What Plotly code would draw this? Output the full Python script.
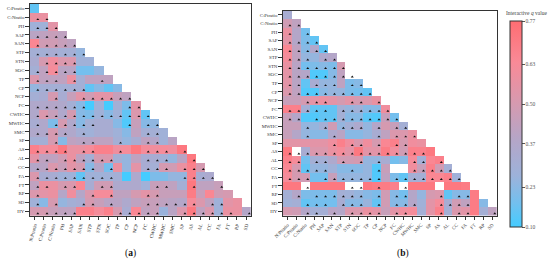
import plotly.graph_objects as go

x_labels = ["N:Ptratio","C:Ptratio","C:Nratio","PH","SAP","SAN","STP","STN","SOC","TP","CP","NCP","FC","CWHC","MWHC","SMC","SP","AS","AL","CC","FA","FT","RP","SD"]
y_labels = ["C:Ptratio","C:Nratio","PH","SAP","SAN","STP","STN","SOC","TP","CP","NCP","FC","CWHC","MWHC","SMC","SP","AS","AL","CC","FA","FT","RP","SD","HY"]

q_a = [
[.15],
[.58,.58],
[.28,.28,.55],
[.40,.42,.45,.42],
[.65,.48,.48,.45,.42],
[.30,.30,.32,.30,.30,.25],
[.33,.50,.60,.52,.52,.28,.28],
[.30,.42,.62,.40,.40,.18,.18,.25],
[.52,.42,.42,.42,.58,.30,.42,.42,.42],
[.25,.30,.30,.30,.30,.30,.15,.22,.15,.22],
[.30,.32,.50,.32,.45,.55,.48,.55,.55,.45,.42],
[.36,.36,.38,.36,.30,.22,.10,.28,.10,.30,.20,.55],
[.36,.52,.45,.36,.50,.22,.20,.28,.22,.28,.15,.52,.15],
[.32,.36,.20,.50,.36,.22,.30,.32,.32,.22,.12,.45,.22,.24],
[.36,.36,.50,.38,.36,.30,.28,.32,.32,.28,.22,.42,.30,.30,.28],
[.30,.30,.50,.22,.42,.40,.40,.42,.42,.30,.25,.32,.42,.38,.28,.40],
[.68,.62,.62,.72,.58,.58,.62,.68,.68,.60,.62,.72,.62,.60,.62,.60,.72],
[.55,.42,.42,.48,.58,.42,.30,.50,.52,.30,.25,.42,.32,.32,.30,.25,.40,.72],
[.38,.40,.52,.45,.55,.50,.22,.38,.18,.58,.25,.55,.32,.30,.50,.48,.58,.68,.50],
[.52,.32,.32,.28,.28,.15,.28,.28,.28,.30,.10,.35,.10,.20,.20,.25,.25,.68,.32,.34],
[.42,.58,.58,.50,.52,.65,.32,.48,.48,.35,.35,.35,.28,.45,.45,.42,.30,.72,.42,.42,.45],
[.52,.55,.58,.38,.60,.38,.52,.62,.62,.42,.42,.50,.55,.50,.45,.45,.45,.70,.45,.65,.48,.50],
[.28,.22,.50,.25,.30,.32,.50,.45,.40,.40,.35,.42,.45,.45,.42,.40,.38,.62,.52,.42,.28,.55,.58],
[.50,.50,.45,.42,.42,.68,.68,.62,.68,.50,.32,.65,.42,.45,.26,.40,.52,.72,.42,.52,.28,.58,.58,.38],
]
marks_a = [
[],[0,1],[0,1,2],[0,1,2,3],[0,1,2,3,4],[0,1,2,3,4,5],[1,2,3,4],[0,1,2,3,4],[0,1,2,4,7],[0,1,2,3,4,5],
[2,5,6,7,8,9,10],[0,1,2,3,4,5,10,11],[0,1,2,3,4,5,6,7,8,9,10,11,12],[0,2,3,4,5,6,10,12,13],[0,1,2,3,5,12,13],
[2,5,6,9,12,13],[0,1,2,3,5,6,9,12,13,14,16],[0,1,3,4,5,6,7,8,12,13,14,17],[0,1,2,3,4,5,6,8,12,13,14,16,17,18],
[0,1,2,3,4,5,6,7,8,16,17,18,19],[0,1,3,4,7,8,13,14,17,20],[0,6,8,12,13],[0,2,5,6,8,12,13,14,15,16,17,19,20],
[0,1,2,3,4,9,10,11,12,13,16,17,18,19,20,21,23],
]
q_b = [
[.32],
[.48,.42],
[.58,.38,.18],
[.55,.38,.20,.15],
[.65,.42,.22,.36,.15],
[.62,.42,.25,.25,.35,.38],
[.58,.40,.18,.20,.22,.20,.50],
[.55,.40,.38,.12,.12,.22,.42,None],
[.55,.40,.15,.32,.25,.25,.42,.20,.22],
[.52,.42,.12,.12,.22,.25,.25,.20,.18,.15],
[.45,.45,.50,.55,.58,.55,.50,.55,.50,.52,.58],
[.68,.68,.30,.15,.15,.15,.30,.25,.28,.22,.22,.60],
[.45,.38,.12,.12,.15,.15,.30,.22,.22,.14,.12,.45,.18],
[.45,.45,.25,.25,.30,.48,.25,.30,.35,.25,.38,.50,.45,.30],
[.45,.38,.25,.22,.22,.35,.40,.22,.22,.25,.32,.42,.52,.52,.58],
[.55,.55,.55,.55,.55,.60,.68,.60,.52,.60,.50,.65,.68,.50,.60,.58],
[.72,None,.32,.52,.52,.58,.62,.55,.72,.55,.55,.70,.60,.48,.68,.68,.72],
[.68,.62,.18,.30,.30,.35,.48,.48,.50,.25,.25,.32,.18,.22,.62,.30,.65,.68],
[.65,.50,.15,.25,.25,.28,.22,.22,.22,.25,.12,.45,None,None,.60,.45,.68,.48,.30],
[.62,.50,.48,.18,.18,.45,.25,.25,.25,.25,.12,.42,.20,.15,.30,.30,.65,.65,.68,.28],
[.72,.72,None,.72,.72,.72,.72,None,None,.72,.70,.70,.68,None,.72,.72,.72,None,.72,.72,.70],
[.30,.38,.20,.20,.20,.20,.30,.28,.25,.22,.20,.48,.22,.18,.38,.25,.50,.52,.15,.22,.22,.70],
[.28,.30,.15,.18,.18,.18,.32,.22,.22,.26,.15,.48,.22,.22,.38,.28,.55,.62,.32,.48,.42,.70,.22],
[.50,.48,.38,.30,.30,.40,.38,.52,.52,.58,.55,.45,.55,.60,.62,.30,.55,.68,.30,.52,.55,.70,.30,.42],
]
marks_b = [
[],[0,1],[0,2],[0,1,2,3],[0,1,2,3,4],[0,1,2,4,5],[0,1,2,3,4,5,6],[0,1,2,3,4,5,6,7],[0,1,3,4,5,7,8],[0,1,2,3,4,5,6,7,8,9],
[2,3,4,7,8,10],[0,1,2,3,4,6,7,8,9,10,11],[0,1,3,4,5,6,7,8,9,10,11,12],[2,4,6,7,8,10,12,13],[2,5,10,12,13,14],
[5,7,8,10,12,13],[0,1,2,3,4,5,6,7,8,9,10,11,12,13,14,15],[0,1,3,4,6,8,10,14,15,17],[0,1,2,3,4,7,10,14,15,16,17,18],
[0,1,2,4,5,6,7,8,9,10,12,13,14,15,16,17,18,19],[2,7,8,10,13],[1,3,4,5,6,7,8,10,12,13,17,19,20],
[2,3,4,6,7,8,10,12,13,14,17,18,19,20],[2,3,5,7,8,9,10,12,13,17,19,20,23],
]
cbar_ticks = [0.10,0.23,0.37,0.50,0.63,0.77]
cbar_text = ["0.10","0.23","0.37","0.50","0.63","0.77"]

W, H = 550, 262
FONT = "Liberation Serif"
scale = [[0,"#45ccff"],[.12,"#74bfee"],[.25,"#9db2da"],[.42,"#b4a6c8"],[.6,"#d69ab0"],[.8,"#f98a97"],[1,"#ff6d72"]]

def grid(rows):
    return [list(r) + [None]*(24-len(r)) for r in rows]

def pts(marks, dx, dy):
    xs, ys = [], []
    for r, cols in enumerate(marks):
        for c in cols:
            xs.append(c+dx); ys.append(r+dy)
    return xs, ys

fig = go.Figure()
panels = [("x","y",q_a,marks_a,.35,.25,False),("x2","y2",q_b,marks_b,.28,.25,True)]
for xa, ya, q, m, dx, dy, show in panels:
    fig.add_trace(go.Heatmap(z=grid(q), x=list(range(24)), y=list(range(24)), xaxis=xa, yaxis=ya,
        colorscale=scale, zmin=.10, zmax=.77, showscale=show, hoverongaps=False,
        colorbar=dict(x=510/W, xanchor="left", xpad=0, ypad=0, thickness=11.5, thicknessmode="pixels",
            len=205.5, lenmode="pixels", y=1-21/H, yanchor="top",
            tickvals=cbar_ticks, ticktext=cbar_text, ticks="outside", ticklen=2.5, tickcolor="#555", tickwidth=1,
            tickfont=dict(family=FONT, size=5.5, color="#555"),
            outlinecolor="#333", outlinewidth=1)))
    xs, ys = pts(m, dx, dy)
    fig.add_trace(go.Scatter(x=xs, y=ys, xaxis=xa, yaxis=ya, mode="markers", showlegend=False,
        marker=dict(symbol="triangle-up", size=2.6, color="#111", line=dict(width=0))))

def ax(domain, angle=None, labels=None, rng=None, anchor=None):
    d = dict(domain=domain, range=rng, tickmode="array", tickvals=list(range(24)), ticktext=labels,
             ticks="outside", ticklen=3.5, tickwidth=1, tickcolor="#333", showgrid=False, zeroline=False,
             showline=True, linecolor="#333", linewidth=1.2, mirror=True, anchor=anchor, automargin=False,
             tickfont=dict(family=FONT, size=4.9, color="#333"))
    if angle is not None:
        d["tickangle"] = angle
    return d

fig.update_layout(
    width=W, height=H, margin=dict(l=0,r=0,t=0,b=0,autoexpand=False), paper_bgcolor="white", plot_bgcolor="white", showlegend=False,
    xaxis=ax([30/W,250.7/W], -75, x_labels, [-.5,23.5], "y"),
    yaxis=ax([1-215.7/H,1-4/H], 0, y_labels, [23.5,-.5], "x"),
    xaxis2=ax([283/W,496.7/W], -45, x_labels, [-.5,23.5], "y2"),
    yaxis2=ax([1-215.7/H,1-10.7/H], 0, y_labels, [23.5,-.5], "x2"),
    annotations=[
        dict(text="(<b>a</b>)", x=130/W, y=1-253/H, xref="paper", yref="paper", xanchor="center", yanchor="middle", showarrow=False,
             font=dict(family=FONT, size=9.5, color="#111")),
        dict(text="(<b>b</b>)", x=403/W, y=1-253/H, xref="paper", yref="paper", xanchor="center", yanchor="middle", showarrow=False,
             font=dict(family=FONT, size=9.5, color="#111")),
        dict(text="Interactive <i>q</i> value", x=526/W, y=1-13/H, xref="paper", yref="paper", xanchor="center", yanchor="middle", showarrow=False,
             font=dict(family=FONT, size=5.5, color="#444")),
    ],
)
fig.write_html("out.html", config={"displayModeBar": False}, post_script="document.body.style.margin='0';document.documentElement.style.overflow='hidden';")
